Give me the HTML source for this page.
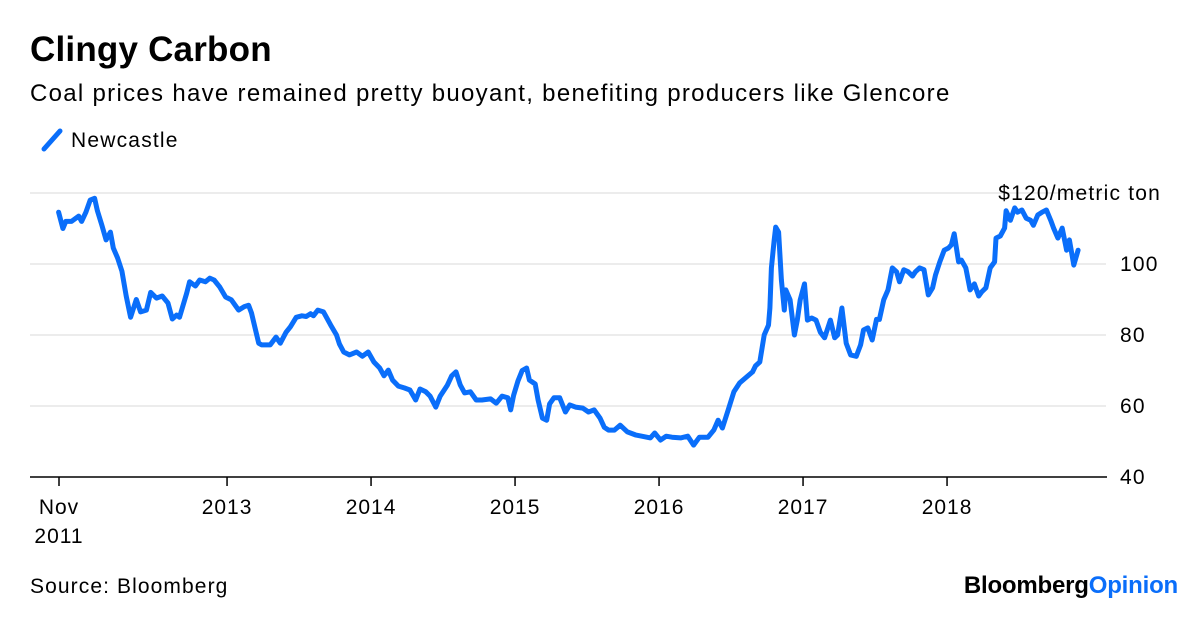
<!DOCTYPE html>
<html><head><meta charset="utf-8"><style>
body{margin:0;background:#fff;width:1200px;height:612px;overflow:hidden;font-family:"Liberation Sans",Arial,sans-serif;color:#000}
</style></head><body>
<svg width="1200" height="612">
<text x="30" y="61" font-size="35" font-weight="bold" style="letter-spacing:0.2px">Clingy Carbon</text>
<text x="30" y="101" font-size="24" style="letter-spacing:1.3px">Coal prices have remained pretty buoyant, benefiting producers like Glencore</text>
<g>
<line x1="44" y1="149" x2="60" y2="131" stroke="#0a6efa" stroke-width="5" stroke-linecap="round"/>
<text x="71" y="147" font-size="21" style="letter-spacing:1.2px">Newcastle</text>
</g>
<g id="grid"></g>
<g id="xaxis"></g>
<g id="yaxis"></g>
<path id="line" fill="none" stroke="#0a6efa" stroke-width="5" stroke-linejoin="round" stroke-linecap="round"/>
<text x="30" y="593" font-size="21" style="letter-spacing:1.1px">Source: Bloomberg</text>
<text x="1178" y="593" font-size="24" font-weight="bold" text-anchor="end" style="letter-spacing:-0.2px">Bloomberg<tspan fill="#0a6efa">Opinion</tspan></text>
</svg>
<script>
const dates=[2011.83,2011.86,2011.88,2011.92,2011.97,2011.99,2012.02,2012.05,2012.08,2012.10,2012.13,2012.16,2012.19,2012.21,2012.24,2012.27,2012.30,2012.33,2012.37,2012.40,2012.44,2012.47,2012.51,2012.55,2012.59,2012.62,2012.65,2012.67,2012.72,2012.74,2012.78,2012.81,2012.85,2012.88,2012.91,2012.95,2012.99,2013.03,2013.08,2013.12,2013.15,2013.17,2013.22,2013.24,2013.30,2013.34,2013.37,2013.41,2013.44,2013.48,2013.52,2013.55,2013.58,2013.60,2013.63,2013.67,2013.72,2013.76,2013.78,2013.81,2013.85,2013.90,2013.94,2013.98,2014.02,2014.06,2014.09,2014.12,2014.15,2014.19,2014.23,2014.27,2014.31,2014.34,2014.38,2014.41,2014.45,2014.48,2014.53,2014.56,2014.59,2014.62,2014.65,2014.69,2014.73,2014.77,2014.83,2014.87,2014.91,2014.95,2014.97,2014.99,2015.02,2015.05,2015.08,2015.10,2015.14,2015.16,2015.19,2015.22,2015.24,2015.27,2015.31,2015.35,2015.38,2015.42,2015.47,2015.51,2015.55,2015.59,2015.62,2015.65,2015.69,2015.73,2015.78,2015.84,2015.88,2015.94,2015.97,2016.01,2016.05,2016.09,2016.15,2016.20,2016.24,2016.28,2016.34,2016.38,2016.41,2016.44,2016.48,2016.52,2016.56,2016.60,2016.65,2016.67,2016.70,2016.73,2016.76,2016.77,2016.78,2016.80,2016.81,2016.83,2016.85,2016.87,2016.88,2016.91,2016.94,2016.96,2016.98,2017.01,2017.03,2017.06,2017.09,2017.12,2017.15,2017.19,2017.22,2017.24,2017.27,2017.30,2017.33,2017.37,2017.40,2017.42,2017.45,2017.48,2017.51,2017.53,2017.56,2017.59,2017.62,2017.65,2017.67,2017.70,2017.73,2017.76,2017.78,2017.81,2017.84,2017.87,2017.90,2017.92,2017.95,2017.98,2018.01,2018.03,2018.05,2018.08,2018.10,2018.13,2018.16,2018.19,2018.22,2018.24,2018.27,2018.30,2018.33,2018.34,2018.37,2018.40,2018.41,2018.44,2018.47,2018.49,2018.52,2018.55,2018.58,2018.60,2018.63,2018.66,2018.69,2018.72,2018.74,2018.77,2018.80,2018.83,2018.85,2018.88,2018.91];
const prices=[114.6,110,112,112,113.5,112,114.6,118,118.5,115,111,106.8,109,104.5,101.7,98,91,85,90,86.5,87,92,90.4,91,89,84.5,85.6,85,91.8,95,93.8,95.5,95,96,95.5,93.5,90.7,89.9,87,88,88.4,86.2,77.7,77.2,77.2,79.4,77.7,80.8,82.3,85,85.4,85.2,86,85.4,87,86.5,82.8,80,77.5,75.2,74.4,75.2,74,75.2,72.4,70.7,68.5,70.1,67.3,65.6,65.1,64.5,61.7,64.8,64,62.8,59.7,62.8,65.9,68.5,69.6,65.9,63.7,64,61.7,61.7,62,60.8,62.8,62.3,58.9,63,67,70,70.7,67.3,66.2,61.7,56.6,56,60.6,62.3,62.3,58.3,60.3,59.7,59.4,58.3,58.9,56.6,54,53.2,53.2,54.6,52.7,51.8,51.5,51,52.4,50.4,51.5,51.2,51,51.5,49,51.2,51.2,53.2,56,53.8,58.9,64,66.5,67.9,69.6,71.3,72.4,80,82.8,87.6,98.9,106.8,110.4,109,95.5,87,92.7,89.9,80,84.2,89.9,94.4,84.2,84.8,84.2,80.8,79.2,84.2,79.2,80,87.6,77.7,74.4,74,77.2,81.4,82,78.6,84.4,84.4,89.9,92.7,98.9,97.8,95,98.4,97.8,96.6,97.8,98.9,98.4,91.3,93.3,96.9,100.6,103.9,104.5,105.4,108.5,100.6,101.1,98.9,92.7,94.4,91,92.1,93.3,98.9,100.6,107.3,107.9,110.1,115,112.3,115.8,114.6,115.2,112.9,112.3,110.9,113.8,114.6,115.2,112.3,110.1,107.3,110.1,103.9,106.8,99.7,103.9];
const xTickYears=[2011.833,2013,2014,2015,2016,2017,2018];
const xTickLabels=[["Nov","2011"],["2013"],["2014"],["2015"],["2016"],["2017"],["2018"]];
const yTicks=[40,60,80,100,120];
const yTickLabels=["40","60","80","100","$120/metric ton"];

const NS="http://www.w3.org/2000/svg";
function X(t){return 59+(t-2011.833)*144;}
function Y(v){return 477-(v-40)*3.55;}
function mk(tag,attrs,parent){const e=document.createElementNS(NS,tag);for(const k in attrs)e.setAttribute(k,attrs[k]);parent.appendChild(e);return e;}
const grid=document.getElementById('grid'),xa=document.getElementById('xaxis'),ya=document.getElementById('yaxis');
yTicks.forEach((v,i)=>{
  if(v!==40){const g=mk('line',{x1:30,x2:1106,y1:Y(v),y2:Y(v),stroke:'#ececec','stroke-width':2},grid);
  
  }
  const isTop=i===yTicks.length-1;
  const t=mk('text',{x:isTop?1161:1120,y:Y(v)+7,'font-size':21,'text-anchor':isTop?'end':'start','letter-spacing':'1.2px'},ya);
  t.textContent=yTickLabels[i];
  
  
});
const ax=mk('line',{x1:30,x2:1107,y1:477,y2:477,stroke:'#000','stroke-width':1.5},xa);


xTickYears.forEach((t,i)=>{
  const tk=mk('line',{x1:X(t),x2:X(t),y1:477,y2:486,stroke:'#000','stroke-width':1.5},xa);
  
  
  xTickLabels[i].forEach((s,j)=>{
    const tx=mk('text',{x:X(t),y:514+j*29,'font-size':21,'text-anchor':'middle','letter-spacing':'1px'},xa);
    tx.textContent=s;
    
    
  });
});
document.getElementById('line').setAttribute('d',dates.map((t,i)=>(i?'L':'M')+X(t).toFixed(1)+','+Y(prices[i]).toFixed(1)).join(''));
</script>
</body></html>
